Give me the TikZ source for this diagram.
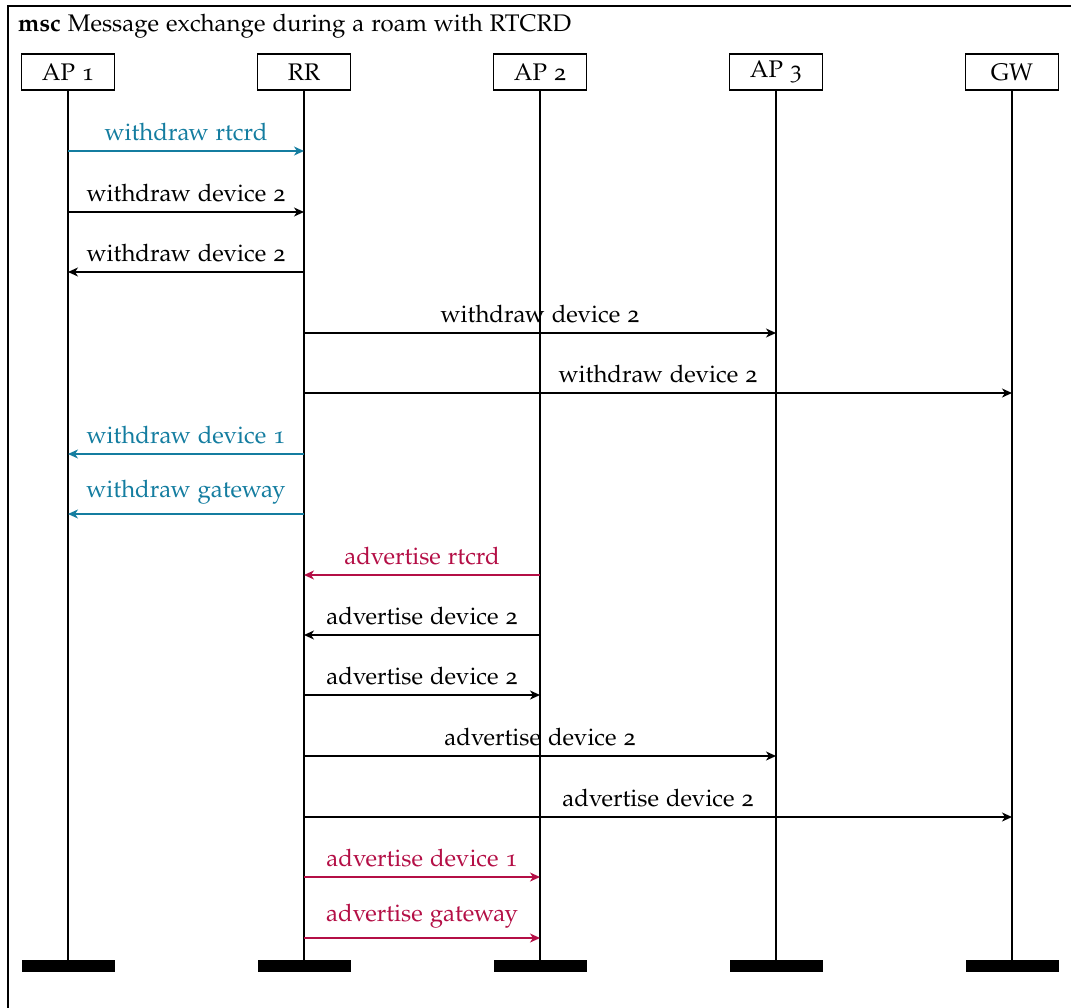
\documentclass[tikz,border=0pt]{standalone}
\usepackage[T1]{fontenc}
\usepackage[osf]{mathpazo}
\usetikzlibrary{arrows.meta}
\definecolor{msgblue}{RGB}{20,125,160}
\definecolor{msgred}{RGB}{180,15,70}
\tikzset{
  every node/.style={font=\fontsize{24}{29}\selectfont},
  inst/.style={draw, line width=1.3pt, minimum width=93pt, minimum height=36pt, inner sep=0pt},
  instend/.style={fill=black, minimum width=93pt, minimum height=12pt, inner sep=0pt, anchor=north},
  life/.style={line width=2.4pt},
  msg/.style={line width=1.4pt, -{Stealth[length=10pt,width=9pt,inset=3pt]}},
  lbl/.style={pos=0.5, anchor=south, yshift=9.5pt, inner sep=0pt},
}
\begin{document}
\begin{tikzpicture}[x=1pt,y=-1pt]
\useasboundingbox (0,0) rectangle (1071,1008);
% enclosing msc frame
\draw[line width=1.4pt] (8,6) rectangle (1090,1030);
\node[anchor=base west, inner sep=0pt] (title) at (18,32) {\textbf{msc} Message exchange during a roam with RTCRD};

% instance heads
\node[inst] (ap1) at (68,72) {AP 1};
\node[inst] (rr)  at (304,72) {RR};
\node[inst] (ap2) at (540,72) {AP 2};
\node[inst] (ap3) at (776,72) {AP 3};
\node[inst] (gw)  at (1012,72) {GW};

% instance ends
\node[instend] (e1) at (68,960) {};
\node[instend] (e2) at (304,960) {};
\node[instend] (e3) at (540,960) {};
\node[instend] (e4) at (776,960) {};
\node[instend] (e5) at (1012,960) {};

% lifelines
\foreach \a/\b in {ap1/e1, rr/e2, ap2/e3, ap3/e4, gw/e5}
  \draw[life] (\a.south) -- (\b.north);

% messages
\draw[msg, msgblue] (ap1 |- 0,151) -- (rr |- 0,151) node[lbl] {withdraw rtcrd};
\draw[msg] (ap1 |- 0,212) -- (rr |- 0,212) node[lbl] {withdraw device 2};
\draw[msg] (rr |- 0,272) -- (ap1 |- 0,272) node[lbl] {withdraw device 2};
\draw[msg] (rr |- 0,333) -- (ap3 |- 0,333) node[lbl] {withdraw device 2};
\draw[msg] (rr |- 0,393) -- (gw |- 0,393) node[lbl] {withdraw device 2};
\draw[msg, msgblue] (rr |- 0,454) -- (ap1 |- 0,454) node[lbl] {withdraw device 1};
\draw[msg, msgblue] (rr |- 0,514) -- (ap1 |- 0,514) node[lbl] {withdraw gateway};
\draw[msg, msgred] (ap2 |- 0,575) -- (rr |- 0,575) node[lbl] {advertise rtcrd};
\draw[msg] (ap2 |- 0,635) -- (rr |- 0,635) node[lbl] {advertise device 2};
\draw[msg] (rr |- 0,695) -- (ap2 |- 0,695) node[lbl] {advertise device 2};
\draw[msg] (rr |- 0,756) -- (ap3 |- 0,756) node[lbl] {advertise device 2};
\draw[msg] (rr |- 0,817) -- (gw |- 0,817) node[lbl] {advertise device 2};
\draw[msg, msgred] (rr |- 0,877) -- (ap2 |- 0,877) node[lbl] {advertise device 1};
\draw[msg, msgred] (rr |- 0,938) -- (ap2 |- 0,938) node[lbl] {advertise gateway};
\end{tikzpicture}
\end{document}
